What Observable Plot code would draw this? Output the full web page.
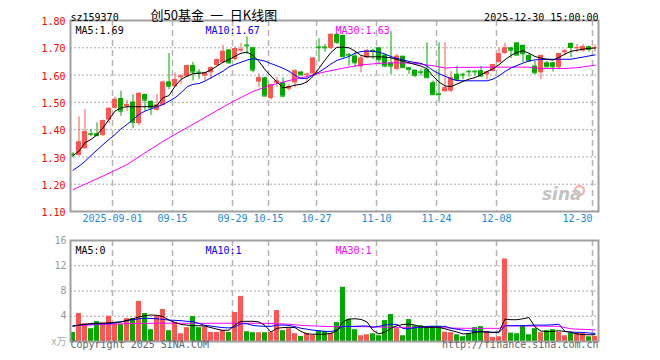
<!DOCTYPE html>
<html><head><meta charset="utf-8">
<script src="https://cdn.jsdelivr.net/npm/d3@7"></script>
<script src="https://cdn.jsdelivr.net/npm/@observablehq/plot@0.6"></script>
<style>
body{margin:0;background:#fff;}
#wrap{position:relative;width:660px;height:360px;overflow:hidden;background:#fff;}
#main,#vol{position:absolute;left:0;}
#main{top:0;} #vol{top:232px;}
</style></head><body><div id="wrap"><div id="main"></div><div id="vol"></div></div>
<script>
// ---------- data ----------
const code = "sz159370";
const title = "创50基金 一 日K线图";
const stamp = "2025-12-30 15:00:00";
const tickIdx = [7, 17, 27, 33, 41, 51, 61, 71, 87];
const tickLabels = ["2025-09-01", "09-15", "09-29", "10-15", "10-27", "11-10", "11-24", "12-08", "12-30"];
const priceTicks = [1.10, 1.20, 1.30, 1.40, 1.50, 1.60, 1.70, 1.80];
const volTicks = [4, 8, 12, 16];
const maLabels = ["MA5:1.69", "MA10:1.67", "MA30:1.63"];
const volMaLabels = ["MA5:0", "MA10:1", "MA30:1"];

const open = [1.310,1.305,1.330,1.385,1.385,1.378,1.435,1.478,1.514,1.484,
1.501,1.422,1.529,1.504,1.471,1.489,1.575,1.557,1.590,1.594,
1.635,1.611,1.596,1.608,1.635,1.645,1.692,1.657,1.688,1.710,
1.700,1.574,1.590,1.514,1.570,1.572,1.548,1.571,1.611,1.598,
1.604,1.703,1.703,1.697,1.749,1.745,1.676,1.670,1.630,1.663,
1.690,1.700,1.673,1.645,1.621,1.669,1.627,1.618,1.612,1.620,
1.572,1.531,1.539,1.541,1.603,1.603,1.614,1.614,1.616,1.601,
1.613,1.646,1.679,1.700,1.718,1.709,1.672,1.633,1.608,1.645,
1.645,1.627,1.682,1.716,1.698,1.688,1.704,1.699];
const high = [1.316,1.447,1.474,1.400,1.425,1.435,1.480,1.519,1.541,1.508,
1.528,1.535,1.530,1.505,1.529,1.578,1.679,1.608,1.602,1.636,
1.647,1.620,1.610,1.631,1.659,1.709,1.694,1.703,1.716,1.740,
1.702,1.605,1.592,1.566,1.592,1.590,1.565,1.620,1.614,1.607,
1.664,1.733,1.712,1.752,1.753,1.747,1.678,1.682,1.669,1.694,
1.694,1.700,1.673,1.759,1.676,1.670,1.628,1.619,1.621,1.718,
1.578,1.718,1.718,1.614,1.632,1.607,1.617,1.617,1.632,1.611,
1.638,1.699,1.717,1.701,1.720,1.710,1.675,1.651,1.672,1.650,
1.646,1.680,1.694,1.718,1.712,1.712,1.706,1.710];
const low = [1.296,1.303,1.328,1.374,1.374,1.375,1.422,1.475,1.449,1.466,
1.403,1.415,1.468,1.452,1.467,1.487,1.547,1.554,1.565,1.590,
1.578,1.584,1.578,1.584,1.633,1.641,1.639,1.652,1.683,1.676,
1.608,1.555,1.521,1.508,1.555,1.517,1.541,1.553,1.596,1.572,
1.597,1.647,1.684,1.695,1.712,1.663,1.633,1.627,1.608,1.660,
1.657,1.637,1.627,1.602,1.615,1.627,1.602,1.590,1.596,1.588,
1.523,1.502,1.537,1.535,1.577,1.583,1.592,1.596,1.594,1.583,
1.611,1.644,1.675,1.660,1.671,1.645,1.648,1.602,1.584,1.627,
1.611,1.624,1.670,1.664,1.682,1.684,1.684,1.684];
const close = [1.308,1.355,1.393,1.383,1.378,1.433,1.478,1.511,1.468,1.492,
1.427,1.533,1.508,1.480,1.490,1.574,1.559,1.584,1.596,1.635,
1.611,1.608,1.608,1.627,1.657,1.687,1.645,1.697,1.694,1.707,
1.618,1.590,1.523,1.564,1.578,1.523,1.558,1.615,1.601,1.603,
1.662,1.700,1.700,1.749,1.720,1.668,1.673,1.645,1.662,1.689,
1.686,1.657,1.633,1.633,1.669,1.627,1.621,1.599,1.610,1.590,
1.529,1.529,1.553,1.590,1.583,1.600,1.612,1.612,1.596,1.611,
1.638,1.678,1.699,1.691,1.673,1.678,1.651,1.608,1.672,1.630,
1.630,1.679,1.688,1.701,1.700,1.704,1.694,1.700];
const volume = [1.44,4.43,2.83,2.03,3.15,2.93,4.00,2.72,2.67,3.63,
3.63,6.35,4.43,1.87,4.00,5.07,1.71,3.04,1.23,2.19,
3.95,2.19,2.29,1.44,1.44,1.76,1.44,4.59,7.15,1.55,
1.39,1.39,1.39,1.44,4.90,1.71,2.03,1.23,0.80,1.28,
0.96,1.65,1.60,1.28,2.99,8.59,3.52,1.87,0.91,1.07,
1.23,0.91,3.31,4.27,2.03,0.91,3.47,2.45,2.51,2.24,
2.40,2.40,1.49,1.39,1.07,0.75,1.23,2.19,2.35,1.60,
0.64,0.75,13.07,1.33,1.23,2.51,1.07,2.03,1.39,1.71,
1.87,1.44,0.91,1.28,1.28,1.28,0.75,0.80];

// moving-average lines
const ma5 = [1.305,1.321,1.352,1.364,1.381,1.407,1.437,1.468,1.480,1.484,
1.484,1.484,1.484,1.484,1.489,1.517,1.525,1.559,1.584,1.596,
1.605,1.606,1.609,1.619,1.633,1.647,1.657,1.669,1.680,1.684,
1.672,1.650,1.620,1.596,1.575,1.553,1.557,1.563,1.566,1.575,
1.595,1.625,1.655,1.683,1.702,1.702,1.700,1.688,1.672,1.667,
1.667,1.667,1.666,1.663,1.657,1.651,1.645,1.639,1.633,1.623,
1.596,1.575,1.560,1.558,1.567,1.577,1.585,1.591,1.601,1.613,
1.623,1.638,1.656,1.672,1.683,1.689,1.680,1.668,1.662,1.658,
1.655,1.665,1.677,1.687,1.691,1.695,1.698,1.699];
const ma10 = [1.251,1.266,1.284,1.305,1.325,1.345,1.364,1.382,1.403,1.419,
1.437,1.456,1.468,1.476,1.484,1.492,1.504,1.517,1.535,1.557,
1.566,1.569,1.578,1.590,1.602,1.614,1.630,1.639,1.647,1.655,
1.660,1.656,1.651,1.642,1.634,1.625,1.614,1.599,1.587,1.588,
1.600,1.611,1.625,1.641,1.654,1.661,1.668,1.680,1.686,1.688,
1.687,1.684,1.677,1.668,1.661,1.656,1.650,1.646,1.643,1.633,
1.617,1.605,1.596,1.586,1.580,1.579,1.579,1.579,1.579,1.579,
1.585,1.597,1.613,1.626,1.635,1.644,1.652,1.656,1.657,1.658,
1.658,1.658,1.658,1.658,1.662,1.666,1.670,1.674];
const ma30Idx = [0,3,6,9,12,15,18,21,24,27,30,33,36,39,42,45,48,51,54,57,60,62,64,70,76,78,82,84,87];
const ma30 = [1.180,1.210,1.240,1.272,1.315,1.357,1.395,1.432,1.470,1.507,1.540,1.563,1.580,1.595,1.612,1.625,1.637,1.643,1.645,1.643,1.634,1.626,1.628,1.629,1.629,1.624,1.624,1.627,1.636];

const vma5 = [2.4,2.6,2.7,2.85,2.9,2.9,2.95,3.05,3.1,3.35,
3.6,3.9,4.1,4.2,4.15,3.95,3.4,3.0,2.7,2.6,
2.5,2.5,2.45,2.2,1.95,1.75,1.8,2.6,3.2,3.2,
3.2,3.1,2.55,1.5,2.1,2.2,2.25,2.2,1.6,1.2,
1.15,1.15,1.15,1.3,1.7,3.1,3.55,3.6,3.5,3.1,
1.75,1.2,1.5,2.1,2.5,2.7,2.75,2.6,2.3,2.25,
2.25,2.25,2.0,1.75,1.5,1.2,1.25,1.45,1.55,1.5,
1.45,1.5,3.55,3.45,3.45,3.6,3.8,2.3,1.65,1.6,
1.6,1.7,1.6,1.45,1.2,1.1,1.07,1.07];
const vma10 = [2.5,2.6,2.7,2.75,2.8,2.8,2.85,2.95,3.1,3.3,
3.45,3.6,3.68,3.65,3.6,3.5,3.4,3.35,3.3,3.2,
3.15,2.85,2.55,2.45,2.3,2.2,2.15,2.3,2.8,2.8,
2.55,2.45,2.4,2.4,2.6,2.6,2.55,2.35,2.1,1.95,
1.8,1.7,1.6,1.6,1.8,2.4,2.4,2.4,2.45,2.45,
2.25,2.4,2.6,2.75,2.7,2.05,2.0,2.2,2.3,2.4,
2.4,2.4,2.4,2.1,1.95,1.8,1.7,1.6,1.58,1.5,
1.45,1.4,2.5,2.5,2.5,2.5,2.55,2.6,2.6,2.6,
2.65,2.75,1.6,1.5,1.45,1.44,1.35,1.28];
const vma30Idx = [0,6,10,15,21,27,32,36,38,43,48,54,60,64,71,72,81,83,87];
const vma30 = [2.5,2.75,2.85,2.9,2.88,2.9,2.88,2.75,2.55,2.35,2.35,2.25,2.24,2.1,2.08,2.5,2.4,2.0,1.85];

// ---------- drawing ----------
const N = open.length;
const idx = d3.range(N);
const RED = "#ff5555", GREEN = "#00a800";
const col = i => close[i] >= open[i] ? RED : GREEN;
const MONO = "DejaVu Sans Mono";
const bx1 = i => i - 0.5, bx2 = i => i - 0.5 + 5 / 6, cx = i => i - 1 / 12;
const W = 660;
const common = {
  width: W,
  marginLeft: 70, marginRight: 62,
  style: {background: "transparent", fontFamily: MONO, fontSize: "10px", overflow: "visible"},
  color: {type: "identity"}
};
const vgrid = Plot.ruleX(tickIdx, {x: d => d - 0.5, stroke: "#b4b4b4", strokeWidth: 1.5, strokeDasharray: "6,4"});
const txt = (s, o) => Plot.text([s], {text: d => d, fontFamily: MONO, fontSize: 10, ...o});

const main = Plot.plot({
  ...common,
  height: 232, marginTop: 20, marginBottom: 21,
  x: {domain: [-0.5, 87.5], axis: null},
  y: {domain: [1.10, 1.80], axis: null},
  marks: [
    Plot.ruleY(priceTicks.slice(1, -1), {stroke: "#aaa", strokeDasharray: "2,2"}),
    vgrid,
    Plot.ruleX(idx, {x: cx, y1: i => low[i], y2: i => high[i], stroke: col}),
    Plot.rect(idx, {x1: bx1, x2: bx2, y1: i => open[i], y2: i => close[i], fill: col}),
    Plot.ruleY(idx, {y: i => close[i], x1: bx1, x2: bx2, stroke: col}),
    Plot.line(ma30Idx, {x: cx, y: (d, j) => ma30[j], stroke: "#ff00ff", strokeWidth: 1}),
    Plot.line(idx, {x: cx, y: i => ma10[i], stroke: "#0000ff", strokeWidth: 1}),
    Plot.line(idx, {x: cx, y: i => ma5[i], stroke: "#000", strokeWidth: 1}),
    Plot.frame({stroke: "#a0a0a0", strokeWidth: 2}),
    Plot.text(priceTicks, {y: d => d, text: d => d.toFixed(2), frameAnchor: "left", dx: -5, dy: 1.5, textAnchor: "end", fill: "#f00", fontFamily: MONO, fontSize: 10}),
    Plot.text(tickIdx.slice(0, -1), {x: d => d - 0.5, text: (d, j) => tickLabels[j], frameAnchor: "bottom", dy: 10.5, fill: "#1a8ad8", fontFamily: MONO, fontSize: 10}),
    Plot.text(tickIdx.slice(-1), {x: d => d - 0.5, text: () => tickLabels[tickLabels.length - 1], frameAnchor: "bottom", dy: 10.5, textAnchor: "end", fill: "#1a8ad8", fontFamily: MONO, fontSize: 10}),
    txt(code, {frameAnchor: "top-left", dy: -7, textAnchor: "start", fill: "#000"}),
    txt(title, {frameAnchor: "top-left", dx: 80, dy: -9.5, textAnchor: "start", fill: "#000", fontFamily: "Noto Sans CJK SC", fontSize: 13}),
    txt(stamp, {frameAnchor: "top-right", dy: -7, textAnchor: "end", fill: "#000"}),
    txt(maLabels[0], {frameAnchor: "top-left", dx: 5, dy: 6.5, textAnchor: "start", fill: "#000"}),
    txt(maLabels[1], {frameAnchor: "top-left", dx: 135, dy: 6.5, textAnchor: "start", fill: "#0000ff"}),
    txt(maLabels[2], {frameAnchor: "top-left", dx: 265, dy: 6.5, textAnchor: "start", fill: "#ff00ff"}),
    Plot.dot([0], {frameAnchor: "bottom-right", dx: -19, dy: -21, r: 4.5, stroke: "#f2b4b4", strokeWidth: 2.5, fill: "none"}),
    txt("sina", {frameAnchor: "bottom-right", dx: -17, dy: -12, fill: "#c4c4c4", fontFamily: "DejaVu Sans", fontSize: 17, fontStyle: "italic", fontWeight: "bold"})
  ]
});
// widen the spaces in the title, like the reference's half-width spaces
main.querySelectorAll("text").forEach(t => { if (t.textContent === title) t.setAttribute("word-spacing", "3.5"); });
document.getElementById("main").append(main);

const vol = Plot.plot({
  ...common,
  height: 128, marginTop: 8, marginBottom: 19,
  x: {domain: [-0.5, 87.5], axis: null},
  y: {domain: [0, 16], axis: null},
  marks: [
    Plot.ruleY(volTicks.slice(0, -1), {stroke: "#aaa", strokeDasharray: "2,2"}),
    vgrid,
    Plot.rect(idx, {x1: bx1, x2: bx2, y1: 0, y2: i => volume[i], fill: col}),
    Plot.line(vma30Idx, {x: cx, y: (d, j) => vma30[j], stroke: "#ff00ff", strokeWidth: 1}),
    Plot.line(idx, {x: cx, y: i => vma10[i], stroke: "#0000ff", strokeWidth: 1}),
    Plot.line(idx, {x: cx, y: i => vma5[i], stroke: "#000", strokeWidth: 1}),
    Plot.frame({stroke: "#a0a0a0", strokeWidth: 2}),
    Plot.text(volTicks, {y: d => d, text: d => String(d), frameAnchor: "left", dx: -4, textAnchor: "end", fill: "#999", fontFamily: MONO, fontSize: 10}),
    Plot.text([0], {y: d => d, text: () => "x万", frameAnchor: "left", dx: -4, textAnchor: "end", fill: "#aaa", fontFamily: "Noto Sans CJK SC", fontSize: 10}),
    txt(volMaLabels[0], {frameAnchor: "top-left", dx: 5, dy: 6.5, textAnchor: "start", fill: "#000"}),
    txt(volMaLabels[1], {frameAnchor: "top-left", dx: 135, dy: 6.5, textAnchor: "start", fill: "#0000ff"}),
    txt(volMaLabels[2], {frameAnchor: "top-left", dx: 265, dy: 6.5, textAnchor: "start", fill: "#ff00ff"}),
    txt("Copyright 2025 SINA.COM", {frameAnchor: "bottom-left", dy: 6, textAnchor: "start", fill: "#666"}),
    txt("http://finance.sina.com.cn", {frameAnchor: "bottom-right", dy: 6, textAnchor: "end", fill: "#666"})
  ]
});
document.getElementById("vol").append(vol);
</script></body></html>
